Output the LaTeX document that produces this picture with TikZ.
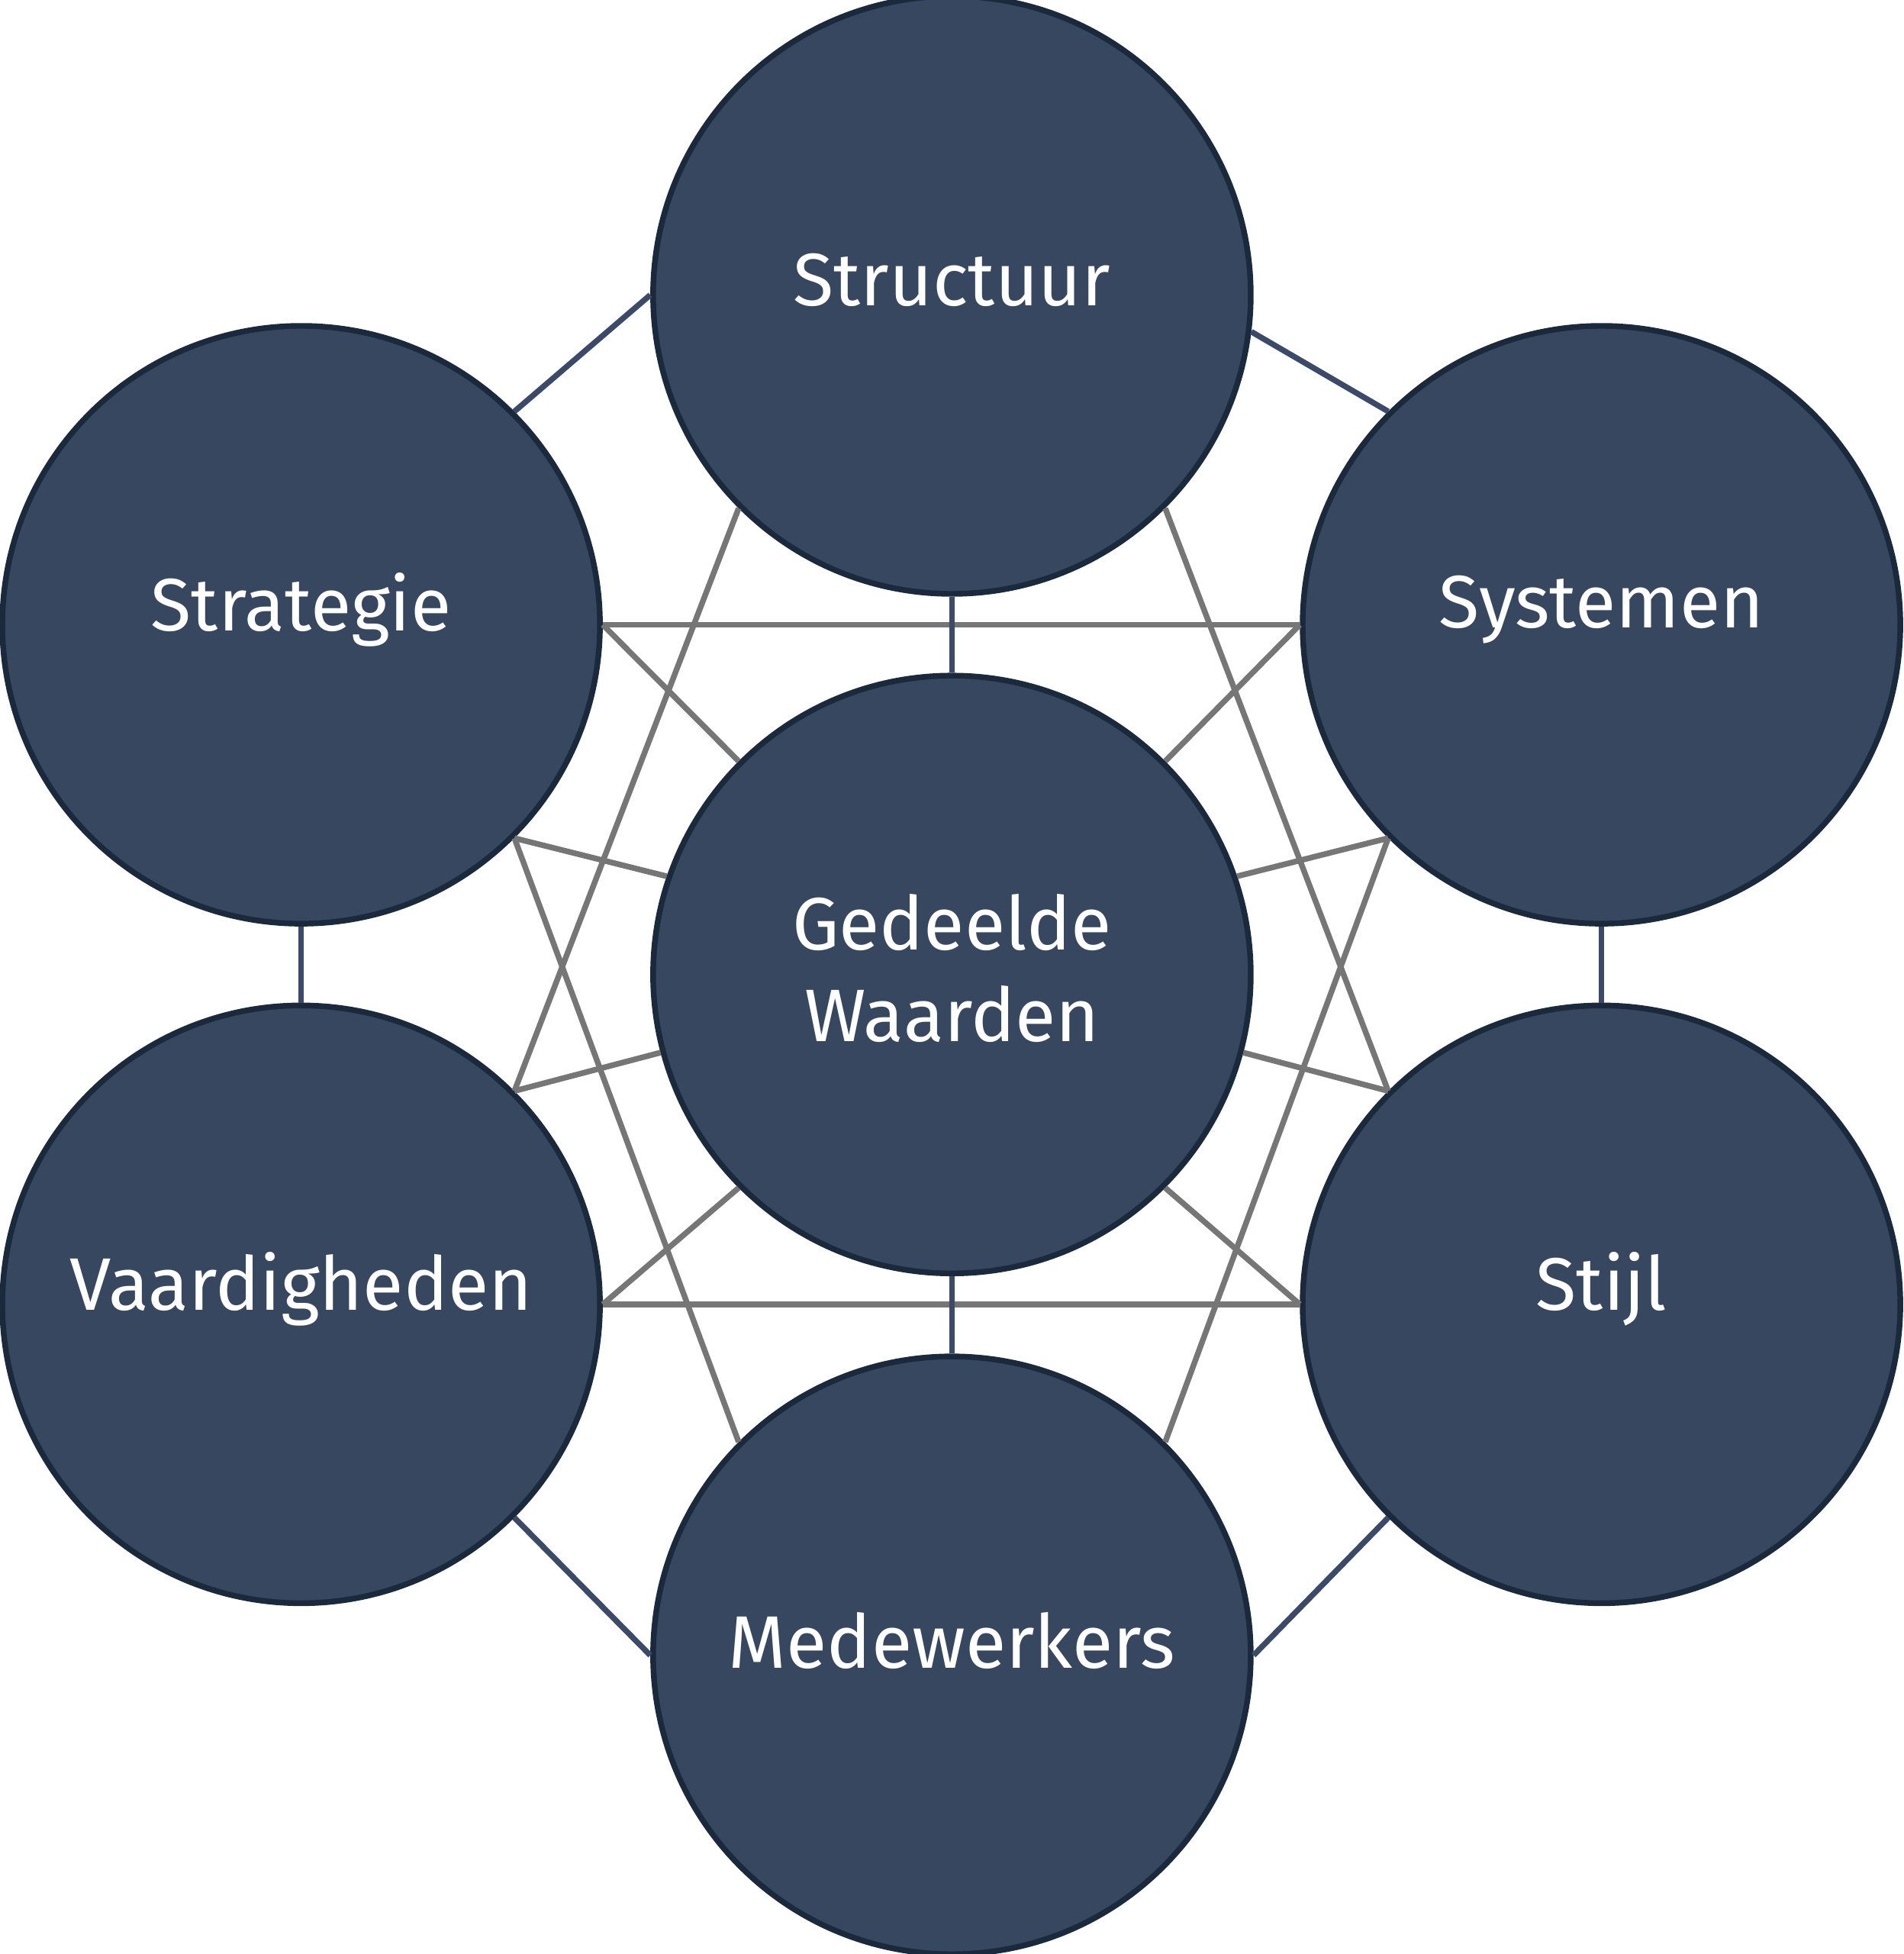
\documentclass[tikz,border=0pt]{standalone}
\usepackage{fontspec}
\setmainfont{Fira Sans}
\usetikzlibrary{positioning}
\definecolor{navy}{HTML}{36475F}
\definecolor{rim}{HTML}{1A2A3C}
\definecolor{linkdark}{HTML}{3A4A68}
\definecolor{linkgray}{HTML}{767676}
\tikzset{%
	elem/.style={draw=rim, line width=1.3pt, circle, minimum size=4.8cm, inner sep=0mm,%
		fill=navy, text=white, font=\fontsize{17}{21}\selectfont, align=center},
	rib/.style={draw=linkdark, line width=1.3pt},
	cross/.style={draw=linkgray, line width=1.3pt}
}
\begin{document}
\begin{tikzpicture}[x=0.01cm, y=-0.01cm]
			\useasboundingbox (0,0) rectangle (1530,1570);
			% links first, circles on top
			\coordinate (c-st) at (765,237);
			\coordinate (c-sg) at (242,502);
			\coordinate (c-sy) at (1287,502);
			\coordinate (c-gw) at (765,783);
			\coordinate (c-va) at (242,1048);
			\coordinate (c-sj) at (1287,1048);
			\coordinate (c-me) at (765,1330);
			\node[elem] (structuur) at (c-st) {};
			\node[elem] (strategie) at (c-sg) {};
			\node[elem] (systemen) at (c-sy) {};
			\node[elem] (waarden) at (c-gw) {};
			\node[elem] (vaardig) at (c-va) {};
			\node[elem] (stijl) at (c-sj) {};
			\node[elem] (mede) at (c-me) {};

			\draw [cross] (strategie.0) -- (systemen.180);
			\draw [cross] (vaardig.0) -- (stijl.180);
			\draw [cross] (strategie.0) -- (waarden.135);
			\draw [cross] (systemen.180) -- (waarden.45);
			\draw [cross] (vaardig.0) -- (waarden.-135);
			\draw [cross] (stijl.180) -- (waarden.-45);
			\draw [cross] (strategie.-45) -- (waarden.161);
			\draw [cross] (systemen.-135) -- (waarden.19);
			\draw [cross] (vaardig.45) -- (waarden.-165);
			\draw [cross] (stijl.135) -- (waarden.-15);
			\draw [cross] (structuur.-135) -- (vaardig.45);
			\draw [cross] (structuur.-45) -- (stijl.135);
			\draw [cross] (mede.135) -- (strategie.-45);
			\draw [cross] (mede.45) -- (systemen.-135);
			\draw [rib] (strategie.45) -- (structuur.180);
			\draw [rib] (structuur.-7) -- (systemen.135);
			\draw [rib] (systemen.-90) -- (stijl.90);
			\draw [rib] (stijl.-135) -- (mede.0);
			\draw [rib] (mede.180) -- (vaardig.-45);
			\draw [rib] (vaardig.90) -- (strategie.-90);
			\draw [rib] (structuur.-90) -- (waarden.90);
			\draw [rib] (waarden.-90) -- (mede.90);

			\foreach \n/\t in {structuur/Structuur, strategie/Strategie, systemen/Systemen,%
				vaardig/Vaardigheden, stijl/Stijl, mede/Medewerkers}
				\node[elem, draw=none, fill=none, minimum size=0pt] at ([yshift=0.12cm]\n) {\t};
			\node[elem, draw=none, fill=none, minimum size=0pt] at ([yshift=0.05cm]waarden) {Gedeelde\\Waarden};
		\end{tikzpicture}
\end{document}
